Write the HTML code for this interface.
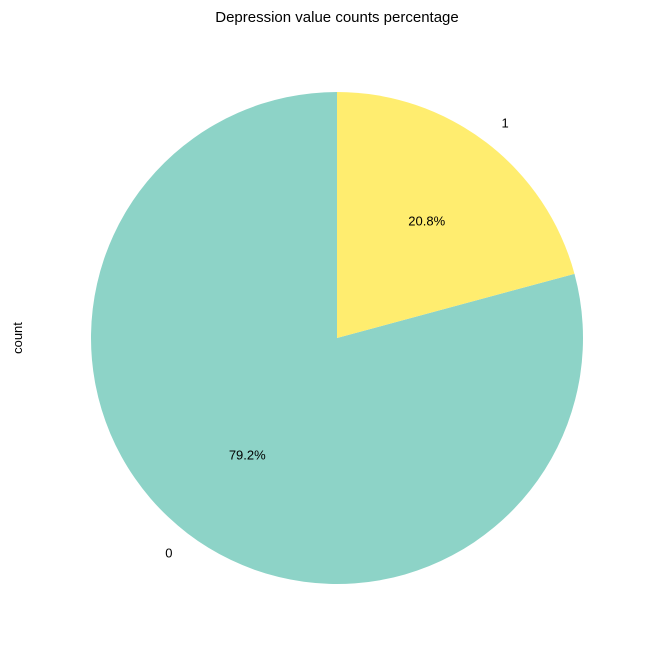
<!DOCTYPE html>
<html>
<head>
<meta charset="utf-8">
<style>
  html,body{margin:0;padding:0;background:#fff;}
  svg{display:block;font-family:"Liberation Sans","DejaVu Sans",sans-serif;}
</style>
</head>
<body>
<svg id="chart" width="655" height="656" viewBox="0 0 655 656">
  <text x="337" y="22" text-anchor="middle" font-size="15" fill="#000">Depression value counts percentage</text>
  <text x="22" y="338" text-anchor="middle" font-size="13" fill="#000" transform="rotate(-90 22 338)">count</text>
  <g id="slices"></g>
  <g id="labels"></g>
</svg>
<script>
const categories = ["0", "1"];
const counts = [79.2, 20.8];
const colors = ["#8dd3c7", "#ffed6f"];

const cx = 337, cy = 338, r = 246;
const NS = "http://www.w3.org/2000/svg";
const total = counts.reduce((a, b) => a + b, 0);
const slicesG = document.getElementById("slices");
const labelsG = document.getElementById("labels");

function pt(deg, rad) {
  const a = deg * Math.PI / 180;
  return [cx + rad * Math.cos(a), cy - rad * Math.sin(a)];
}

let start = 90;
categories.forEach((cat, i) => {
  const sweep = counts[i] / total * 360;
  const end = start + sweep;
  const [x1, y1] = pt(start, r);
  const [x2, y2] = pt(end, r);
  const large = sweep > 180 ? 1 : 0;
  const path = document.createElementNS(NS, "path");
  path.setAttribute("d", `M${cx},${cy} L${x1},${y1} A${r},${r} 0 ${large} 0 ${x2},${y2} Z`);
  path.setAttribute("fill", colors[i % colors.length]);
  
  
  slicesG.appendChild(path);

  const mid = start + sweep / 2;
  const [lx, ly] = pt(mid, r * 1.1);
  const lab = document.createElementNS(NS, "text");
  lab.setAttribute("x", lx);
  lab.setAttribute("y", ly + 4.5);
  lab.setAttribute("font-size", "13");
  lab.setAttribute("text-anchor", Math.cos(mid * Math.PI / 180) < 0 ? "end" : "start");
  lab.textContent = cat;
  
  
  labelsG.appendChild(lab);

  const [px, py] = pt(mid, r * 0.6);
  const pl = document.createElementNS(NS, "text");
  pl.setAttribute("x", px);
  pl.setAttribute("y", py + 4.5);
  pl.setAttribute("font-size", "13");
  pl.setAttribute("text-anchor", "middle");
  pl.textContent = (counts[i] / total * 100).toFixed(1) + "%";
  
  
  labelsG.appendChild(pl);

  start = end;
});
</script>
</body>
</html>
